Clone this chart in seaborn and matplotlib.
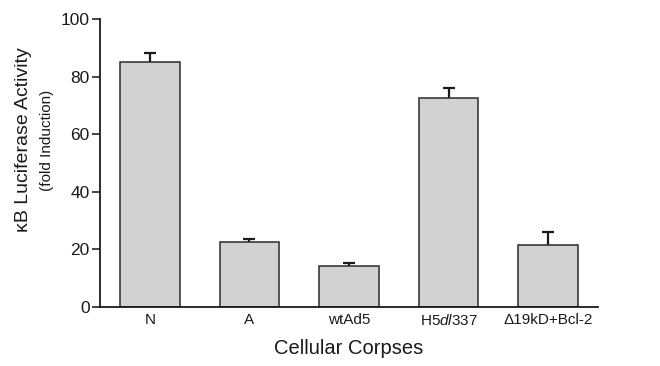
import numpy as np
import pandas as pd
import matplotlib
matplotlib.use("Agg")
import matplotlib.pyplot as plt
import seaborn as sns

# values
corpses = ["N", "A", "wtAd5", r"H5$\mathit{dl}$337", "\u039419kD+Bcl-2"]
activity = [85.0, 22.6, 14.3, 72.5, 21.5]
err_up = [3.2, 1.0, 1.0, 3.5, 4.5]
yticks = [0, 20, 40, 60, 80, 100]

sns.set_style("ticks")
plt.rcParams["font.family"] = ["Liberation Sans", "DejaVu Sans"]
plt.rcParams["mathtext.fontset"] = "custom"
plt.rcParams["mathtext.rm"] = "Liberation Sans"
plt.rcParams["mathtext.it"] = "Liberation Sans:italic"

df = pd.DataFrame({"corpse": corpses, "activity": activity})

fig = plt.figure(figsize=(6.6, 3.66), dpi=100)
ax = fig.add_axes([0.1515, 0.161, 0.7545, 0.787])

sns.barplot(data=df, x="corpse", y="activity", color="#d1d2d4",
            edgecolor="#2a2a2a", linewidth=1.1, width=0.6,
            saturation=1, errorbar=None, ax=ax, zorder=2)

# error bars behind the bars so only the upper half shows
pos = np.arange(len(corpses))
ax.errorbar(pos, activity, yerr=err_up, fmt="none", zorder=1,
            ecolor="#1a1a1a", elinewidth=1.6, capsize=4.2, capthick=1.6)

ax.set_xlim(-0.5, len(corpses) - 0.5)
ax.set_ylim(0, 100)
ax.set_yticks(yticks)
ax.tick_params(axis="y", length=6, width=1.2, labelsize=12.5, pad=1.5,
               labelcolor="#1a1a1a")
ax.tick_params(axis="x", length=0, labelsize=11, pad=4, labelcolor="#1a1a1a")
for s in ["left", "bottom"]:
    ax.spines[s].set_linewidth(1.3)
    ax.spines[s].set_color("#1a1a1a")
sns.despine(ax=ax)

ax.set_xlabel("Cellular Corpses", fontsize=14.5, labelpad=8, color="#1a1a1a")
ax.set_ylabel("")
ax.text(-0.153, 0.58, "\u03baB Luciferase Activity", transform=ax.transAxes,
        rotation=90, ha="center", va="center", fontsize=14, color="#1a1a1a")
ax.text(-0.106, 0.58, "(fold Induction)", transform=ax.transAxes,
        rotation=90, ha="center", va="center", fontsize=11, color="#1a1a1a")

fig.savefig("out.png", dpi=100)
